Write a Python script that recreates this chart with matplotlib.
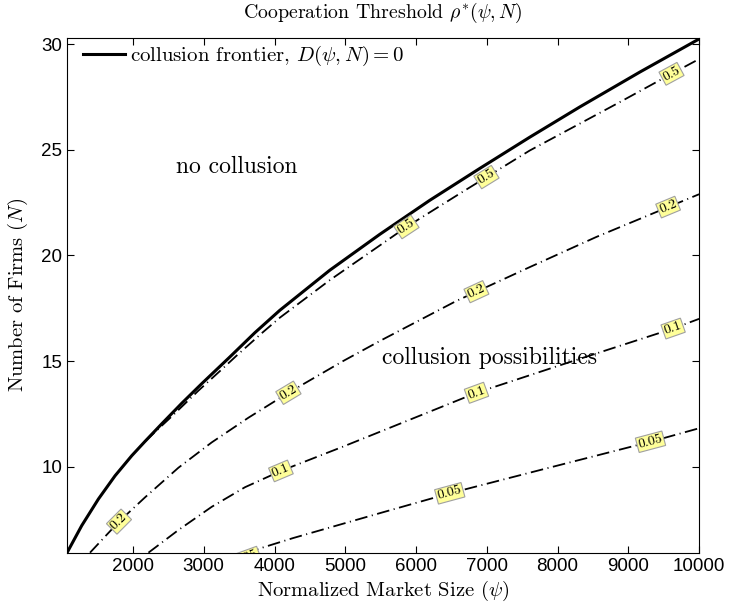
import numpy as np
import matplotlib.pyplot as plt

plt.rcParams['mathtext.fontset'] = 'cm'
serif = 'cmr10'

# collusion frontier D(psi, N) = 0
front_x = [1068, 1275, 1511, 1746, 1982, 2170, 2406, 2688, 2971, 3370, 3724, 4073,
           4780, 5487, 6193, 6900, 7607, 8313, 9161, 10000]
front_y = [5.93, 7.21, 8.47, 9.57, 10.52, 11.20, 12.03, 13.00, 13.93, 15.20, 16.35, 17.40,
           19.30, 21.00, 22.61, 24.12, 25.60, 27.03, 28.68, 30.25]

# contour levels of rho*
c05_x = [2170, 2547, 2924, 3278, 3461, 3819, 4073, 4780, 5864, 6618, 6995, 7607, 8313, 8879, 9610, 10000]
c05_y = [11.20, 12.38, 13.60, 14.68, 15.25, 16.32, 17.05, 18.83, 21.35, 22.93, 23.71, 24.97, 26.24, 27.26, 28.60, 29.30]

c02_x = [1392, 1802, 2170, 2641, 3112, 3631, 4196, 4968, 5487, 6571, 7607, 8550, 9562, 10000]
c02_y = [5.93, 7.40, 8.55, 9.95, 11.15, 12.32, 13.50, 15.00, 15.95, 17.85, 19.45, 20.88, 22.29, 22.90]

c01_x = [2218, 2641, 3112, 3583, 4090, 4968, 5487, 6854, 8078, 9633, 10000]
c01_y = [5.93, 7.00, 8.10, 9.03, 9.80, 10.95, 11.65, 13.50, 14.85, 16.54, 17.00]

c005_x = [3600, 4261, 5487, 6476, 7843, 9313, 10000]
c005_y = [5.93, 6.62, 7.80, 8.74, 9.92, 11.18, 11.82]

levels = ['0.5', '0.2', '0.1', '0.05']
curves = {'0.5': (c05_x, c05_y), '0.2': (c02_x, c02_y),
          '0.1': (c01_x, c01_y), '0.05': (c005_x, c005_y)}
# x positions of the inline level labels
label_x = {
    '0.5': [5864, 6995, 9610],
    '0.2': [1802, 4196, 6853, 9562],
    '0.1': [4090, 6854, 9633],
    '0.05': [3600, 6476, 9313],
}

fig = plt.figure(figsize=(7.29, 6.08), dpi=100)
ax = fig.add_axes([0.092, 0.091, 0.867, 0.847])

ax.plot(front_x, front_y, color='black', lw=2.2, label=r'collusion frontier, $D(\psi,N)=0$')
for lev in levels:
    xs, ys = curves[lev]
    ax.plot(xs, ys, color='black', lw=1.3, linestyle=(0, (7, 2.5, 0.6, 2.5)))

ax.set_xlim(1068, 10000)
ax.set_ylim(5.93, 30.31)
ax.set_xticks(range(2000, 10001, 1000))
ax.set_yticks([10, 15, 20, 25, 30])
ax.tick_params(direction='in', top=True, right=True, length=5, labelsize=13.5)
for lab in ax.get_xticklabels() + ax.get_yticklabels():
    lab.set_family('Liberation Sans')

fig.canvas.draw()
# inline contour labels, rotated along the curve
for lev in levels:
    xs, ys = curves[lev]
    for lx in label_x[lev]:
        ly = np.interp(lx, xs, ys)
        p1 = ax.transData.transform((lx - 150, np.interp(lx - 150, xs, ys)))
        p2 = ax.transData.transform((lx + 150, np.interp(lx + 150, xs, ys)))
        ang = np.degrees(np.arctan2(p2[1] - p1[1], p2[0] - p1[0]))
        if lx <= xs[0]:
            ang = 20
            ly = ly - 0.25
        ax.text(lx, ly, lev, family=serif, fontsize=10, rotation=ang,
                rotation_mode='anchor', ha='center', va='center',
                bbox=dict(boxstyle='square,pad=0.1', fc='#ffff99', ec='#a0a0a0', lw=0.8),
                zorder=5, clip_on=True)

ax.text(2604, 24.17, 'no collusion', family=serif, fontsize=17, va='center')
ax.text(5515, 15.13, 'collusion possibilities', family=serif, fontsize=17, va='center')

ax.set_title(r'Cooperation Threshold $\rho^{*}(\psi,N)$', family=serif, fontsize=14.3, pad=14)
ax.set_xlabel(r'Normalized Market Size ($\psi$)', family=serif, fontsize=14.8, labelpad=3)
ax.set_ylabel(r'Number of Firms ($N$)', family=serif, fontsize=14.8, labelpad=8)

leg = ax.legend(loc='upper left', bbox_to_anchor=(0.0253, 0.988), frameon=False,
                handlelength=2.0, handletextpad=0.25, borderpad=0, borderaxespad=0,
                prop={'family': serif, 'size': 15})

fig.savefig('out.png', dpi=100)
